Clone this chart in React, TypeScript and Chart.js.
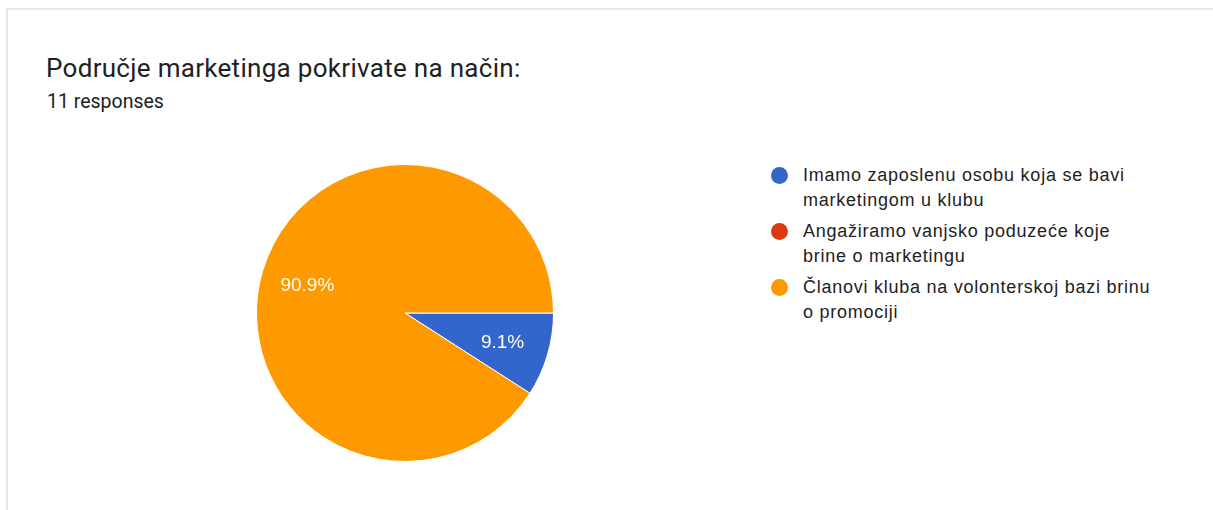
import React, { useEffect, useRef } from "react";
import { Chart, registerables } from "chart.js";

Chart.register(...registerables);

const TITLE = "Područje marketinga pokrivate na način:";
const SUBTITLE = "11 responses";
const categories: string[][] = [
  ["Imamo zaposlenu osobu koja se bavi", "marketingom u klubu"],
  ["Angažiramo vanjsko poduzeće koje", "brine o marketingu"],
  ["Članovi kluba na volonterskoj bazi brinu", "o promociji"],
];
const counts: number[] = [1, 0, 10];
const colors: string[] = ["#3366CC", "#DC3912", "#FF9900"];

const sliceLabelPlugin = {
  id: "sliceLabels",
  afterDatasetsDraw(chart: any) {
    const ctx = chart.ctx;
    const meta = chart.getDatasetMeta(0);
    const data = chart.data.datasets[0].data as number[];
    const total = data.reduce((a, b) => a + b, 0);
    ctx.save();
    ctx.fillStyle = "#ffffff";
    ctx.font = "19px 'Liberation Sans', Arial, sans-serif";
    ctx.textAlign = "center";
    ctx.textBaseline = "middle";
    meta.data.forEach((arc: any, i: number) => {
      const v = data[i];
      if (!v) return;
      const p = arc.getProps(["x", "y", "startAngle", "endAngle", "outerRadius"], true);
      const mid = (p.startAngle + p.endAngle) / 2;
      const r = p.outerRadius * 0.685;
      const text = ((v / total) * 100).toFixed(1) + "%";
      ctx.fillText(text, p.x + Math.cos(mid) * r, p.y + Math.sin(mid) * r + 1);
    });
    ctx.restore();
  },
};

export default function App() {
  const ref = useRef<HTMLCanvasElement | null>(null);
  useEffect(() => {
    if (!ref.current) return;
    const chart = new Chart(ref.current, {
      type: "pie",
      data: {
        labels: categories,
        datasets: [
          {
            data: counts,
            backgroundColor: colors,
            borderColor: "#ffffff",
            borderWidth: 1,
          },
        ],
      },
      options: {
        animation: false,
        responsive: false,
        rotation: 90,
        plugins: {
          legend: { display: false },
          tooltip: { enabled: false },
        },
      },
      plugins: [sliceLabelPlugin],
    });
    return () => chart.destroy();
  }, []);

  return (
    <div
      style={{
        position: "absolute",
        left: 0,
        top: 0,
        width: 1213,
        height: 510,
        overflow: "hidden",
        background: "#ffffff",
      }}
    >
      <div
        style={{
          position: "absolute",
          left: 6,
          top: 8,
          width: 1400,
          height: 700,
          borderLeft: "2px solid #e4e4e4",
          borderTop: "2px solid #e8e8e8",
          boxSizing: "border-box",
        }}
      />
      <div
        style={{
          position: "absolute",
          left: 46,
          top: 52.5,
          fontFamily: "Roboto, 'Open Sans', sans-serif",
          fontSize: 26,
          letterSpacing: "0.3px",
          color: "#202124",
          whiteSpace: "nowrap",
          lineHeight: "30px",
        }}
      >
        {TITLE}
      </div>
      <div
        style={{
          position: "absolute",
          left: 47,
          top: 90,
          fontFamily: "Roboto, 'Open Sans', sans-serif",
          fontSize: 19.5,
          color: "#202124",
          whiteSpace: "nowrap",
          lineHeight: "24px",
        }}
      >
        {SUBTITLE}
      </div>
      <canvas
        ref={ref}
        width={298}
        height={298}
        style={{ position: "absolute", left: 256, top: 164, width: 298, height: 298 }}
      />
      <div
        style={{
          position: "absolute",
          left: 771,
          top: 163,
          fontFamily: "'Liberation Sans', Arial, sans-serif",
          fontSize: 18,
          letterSpacing: "0.75px",
          color: "#222222",
          lineHeight: "25px",
        }}
      >
        {categories.map((lines, i) => (
          <div key={i} style={{ display: "flex", marginBottom: 6 }}>
            <div
              style={{
                width: 17,
                height: 17,
                borderRadius: "50%",
                background: colors[i],
                marginTop: 4,
                marginRight: 15,
                flex: "none",
              }}
            />
            <div>
              {lines.map((l, j) => (
                <div key={j} style={{ whiteSpace: "nowrap" }}>
                  {l}
                </div>
              ))}
            </div>
          </div>
        ))}
      </div>
    </div>
  );
}
